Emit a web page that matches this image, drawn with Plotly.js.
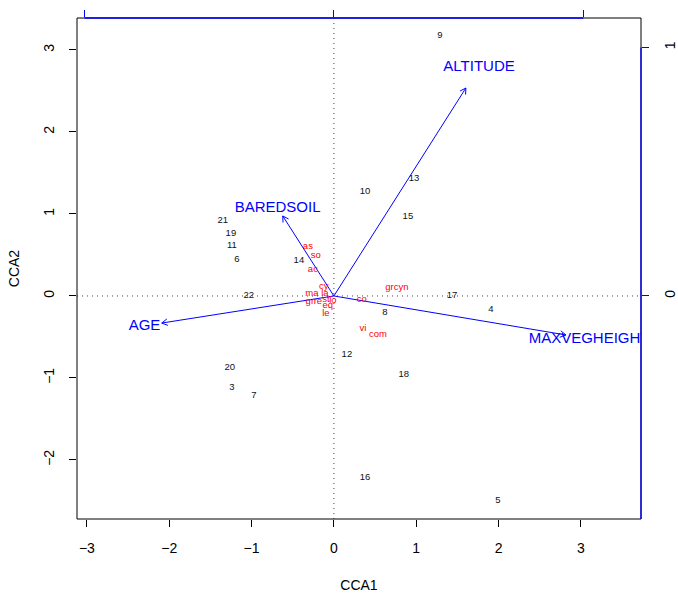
<!DOCTYPE html>
<html>
<head>
<meta charset="utf-8">
<script src="https://cdn.plot.ly/plotly-3.0.1.min.js"></script>
<style>html,body{margin:0;padding:0;background:#fff;}</style>
</head>
<body>
<div id="chart" style="width:678px;height:595px;"></div>
<script>
// Site scores (CCA1, CCA2)
const siteLabels = ['9','10','13','15','21','19','11','6','14','22','17','4','8','12','18','20','3','7','16','5'];
const siteCCA1 = [1.288,0.377,0.972,0.899,-1.349,-1.251,-1.239,-1.178,-0.425,-1.033,1.434,1.908,0.620,0.158,0.850,-1.264,-1.239,-0.972,0.377,1.993];
const siteCCA2 = [3.171,1.268,1.427,0.963,0.915,0.756,0.610,0.439,0.427,0.003,0.003,-0.171,-0.207,-0.720,-0.963,-0.878,-1.122,-1.220,-2.220,-2.500];

// Species scores
const speciesLabels = ['as','so','ac','cy','ma','la','grcyn','gr','re','st','lo','eq','le','co','vi','com'];
const speciesCCA1 = [-0.316,-0.219,-0.255,-0.122,-0.267,-0.109,0.765,-0.292,-0.194,-0.097,-0.012,-0.073,-0.097,0.340,0.352,0.535];
const speciesCCA2 = [0.598,0.488,0.317,0.110,0.024,0.024,0.098,-0.073,-0.073,-0.049,-0.061,-0.122,-0.220,-0.049,-0.402,-0.476];

// Environmental biplot scores (in biplot-axis units)
const envLabels = ['ALTITUDE','BAREDSOIL','AGE','MAXVEGHEIGHT'];
const envCCA1 = [0.529,-0.205,-0.690,0.930];
const envCCA2 = [0.837,0.322,-0.109,-0.157];
const arrowMul = 3.03;

const xRange = [-3.12, 3.73];
const yRange = [-2.72, 3.39];
const xTicks = [-3,-2,-1,0,1,2,3];
const yTicks = [-2,-1,0,1,2,3];
const bipTicks = [-1,0,1];

const BLUE = '#0000FF';
const FONT = 'Liberation Sans, Arial, sans-serif';

// arrows
const ax = [], ay = [], lx = [], ly = [];
const headLen = 0.08, headAng = Math.PI/6;
envCCA1.forEach((v,i)=>{
  const tx = v*arrowMul, ty = envCCA2[i]*arrowMul;
  ax.push(0, tx, null); ay.push(0, ty, null);
  const a = Math.atan2(ty, tx);
  [headAng, -headAng].forEach(h=>{
    ax.push(tx, tx - headLen*Math.cos(a+h), null);
    ay.push(ty, ty - headLen*Math.sin(a+h), null);
  });
  lx.push(tx*1.1); ly.push(ty*1.1);
});

const traces = [
  {x: ax, y: ay, mode:'lines', line:{color:BLUE, width:1}, hoverinfo:'skip', showlegend:false},
  {x: siteCCA1, y: siteCCA2, text: siteLabels, mode:'text', textfont:{family:FONT, size:9.5, color:'#111'}, hoverinfo:'skip', showlegend:false},
  {x: speciesCCA1, y: speciesCCA2, text: speciesLabels, mode:'text', textfont:{family:FONT, size:9.5, color:'#FF0000'}, hoverinfo:'skip', showlegend:false},
  {x: lx, y: ly, text: envLabels, mode:'text', textfont:{family:FONT, size:15, color:BLUE}, hoverinfo:'skip', showlegend:false, cliponaxis:true},
  {x: [0], y: [0], xaxis:'x2', yaxis:'y2', mode:'markers', marker:{opacity:0}, hoverinfo:'skip', showlegend:false}
];

const layout = {
  width: 678, height: 595,
  margin: {l:77, r:37, t:18, b:76},
  paper_bgcolor:'#fff', plot_bgcolor:'#fff',
  font: {family: FONT, size: 14, color:'#000'},
  showlegend:false,
  xaxis: {range: xRange, tickvals: xTicks, ticktext: xTicks.map(v=>v<0?'\u2212'+Math.abs(v):String(v)),
          ticks:'outside', ticklen:7, tickcolor:'#000', tickwidth:1,
          showgrid:false, zeroline:false, showline:false, ticklabelstandoff:9,
          title:{text:'CCA1', font:{size:14}, standoff:25}, fixedrange:true},
  yaxis: {range: yRange, tickvals: yTicks, ticktext: yTicks.map(v=>v<0?'\u2212'+Math.abs(v):String(v)),
          ticks:'outside', ticklen:7, tickcolor:'#000', tickwidth:1, tickangle:-90,
          showgrid:false, zeroline:false, showline:false, ticklabelstandoff:9,
          title:{text:'CCA2', font:{size:14}, standoff:18}, fixedrange:true},
  xaxis2: {overlaying:'x', side:'top', anchor:'y', range: xRange.map(v=>v/arrowMul), tickvals: bipTicks,
           ticks:'outside', ticklen:7, tickcolor:BLUE, tickwidth:1, showticklabels:false,
           showgrid:false, zeroline:false, showline:false, fixedrange:true},
  yaxis2: {overlaying:'y', side:'right', anchor:'x', range: yRange.map(v=>v/arrowMul), tickvals: bipTicks,
           ticks:'outside', ticklen:7, tickcolor:BLUE, tickwidth:1, tickangle:-90, ticklabelstandoff:9,
           tickfont:{size:14, color:'#000'},
           showgrid:false, zeroline:false, showline:false, fixedrange:true},
  shapes: [
    {type:'line', xref:'x', yref:'paper', x0:0, x1:0, y0:0, y1:1, line:{color:'#444', width:1, dash:'1px,4px'}, layer:'below'},
    {type:'line', xref:'paper', yref:'y', x0:0, x1:1, y0:0, y1:0, line:{color:'#444', width:1, dash:'1px,4px'}, layer:'below'},
    {type:'rect', xref:'paper', yref:'paper', x0:0, x1:1, y0:0, y1:1, line:{color:'#000', width:1}},
    {type:'line', xref:'x2', yref:'paper', x0:-1, x1:1, y0:1, y1:1, line:{color:BLUE, width:1.3}},
    {type:'line', xref:'paper', yref:'y2', x0:1, x1:1, y0:yRange[0]/arrowMul, y1:1, line:{color:BLUE, width:1.3}}
  ]
};

Plotly.newPlot('chart', traces, layout, {displayModeBar:false, staticPlot:true});
</script>
</body>
</html>
